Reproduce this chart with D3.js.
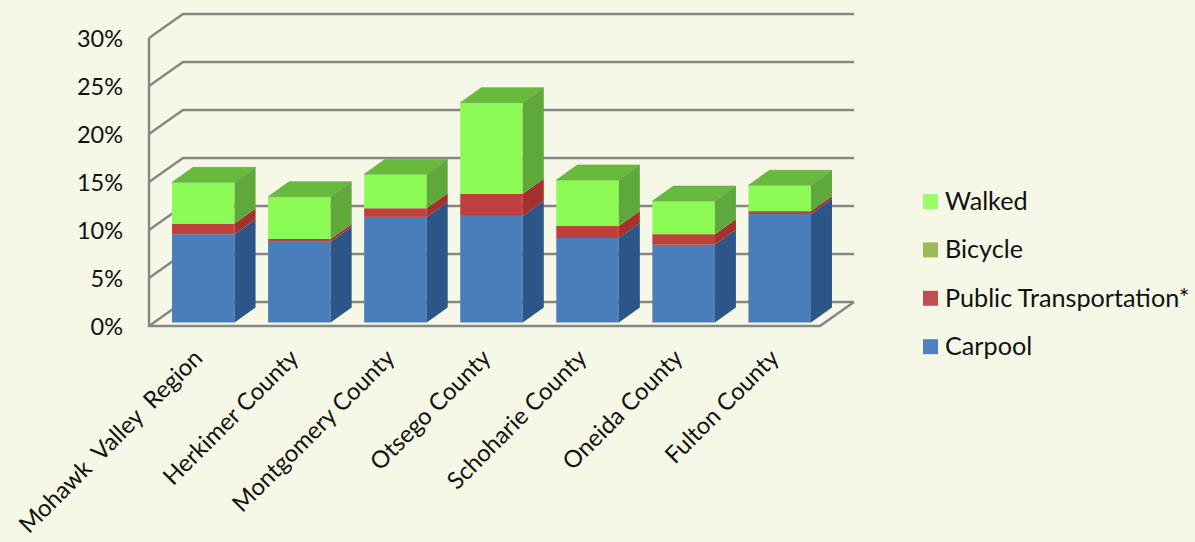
<!DOCTYPE html>
<html><head><meta charset="utf-8">
<script src="https://cdn.jsdelivr.net/npm/d3@7"></script>
<style>html,body{margin:0;padding:0;background:#f5f8e6}svg{display:block}text{font-family:Lato,"Open Sans",sans-serif;fill:#111}</style>
</head><body><svg id="c" width="1195" height="542"></svg>
<script>
const categories=["Mohawk  Valley  Region","Herkimer County","Montgomery County","Otsego County","Schoharie County","Oneida County","Fulton County"];
const carpool=[9.2,8.4,11.0,11.1,8.8,8.1,11.3];
const publicTransport=[1.1,0.3,0.9,2.3,1.25,1.1,0.3];
const bicycle=[0,0,0,0,0,0,0];
const walked=[4.3,4.4,3.55,9.5,4.8,3.45,2.7];
const seriesNames=["Carpool","Public Transportation*","Bicycle","Walked"];
const yTicks=[0,5,10,15,20,25,30];
const frontC=["#4a7ebb","#c0413f","#9bbb59","#8cfb55"];
const sideC=["#2f5587","#a3302e","#76903f","#5fa83b"];
const legendC=["#4f81bd","#c0504d","#9bbb59","#99ff66"];
const topC="#66bb3a";

const svg=d3.select("#c");
const defs=svg.append("defs");
defs.append("filter").attr("id","soft").append("feGaussianBlur").attr("stdDeviation",0.5);
const y=d3.scaleLinear().domain([0,30]).range([326,38]);
const yBar=d3.scaleLinear().domain([0,30]).range([322.5,34.5]);
const x=d3.scaleBand().domain(categories).range([155.5,827.5]).paddingInner(0.349).paddingOuter(0.172);
const wd=34,hd=-24,bd=21,bh=-15,rightX=820;
const grid="#868686";
const gl=svg.append("g").attr("fill","none").attr("stroke",grid).attr("stroke-width",2.4);
yTicks.forEach(t=>{
  const v=y(t);
  gl.append("path").attr("d",`M149,${v}L${149+wd},${v+hd}L${rightX+wd},${v+hd}`);
});
gl.append("path").attr("d",`M149,${y(30)}L149,${y(0)}L${rightX},${y(0)}L${rightX+wd},${y(0)+hd}`);

const stacks=categories.map((c,i)=>{
  let b=0;
  return [carpool[i],publicTransport[i],bicycle[i],walked[i]].map((v,s)=>{const r={c,s,y0:b,y1:b+v};b+=v;return r;});
});
const bars=svg.selectAll("g.bar").data(stacks).join("g").attr("class","bar").attr("filter","url(#soft)");
bars.each(function(st){
  const g=d3.select(this),x0=x(st[0].c),w=x.bandwidth();
  st.filter(d=>d.y1>d.y0).forEach(d=>{
    g.append("rect").attr("x",x0).attr("width",w).attr("y",yBar(d.y1)).attr("height",yBar(d.y0)-yBar(d.y1)).attr("fill",frontC[d.s]);
    g.append("path").attr("fill",sideC[d.s]).attr("d",
      `M${x0+w},${yBar(d.y0)}L${x0+w+bd},${yBar(d.y0)+bh}L${x0+w+bd},${yBar(d.y1)+bh}L${x0+w},${yBar(d.y1)}Z`);
  });
  const t=yBar(st[3].y1);
  g.append("path").attr("fill",topC).attr("stroke","#7f9a6a").attr("stroke-width",.6)
    .attr("d",`M${x0},${t}L${x0+bd},${t+bh}L${x0+w+bd},${t+bh}L${x0+w},${t}Z`);
});

svg.selectAll("text.yt").data(yTicks).join("text").attr("class","yt")
  .attr("x",123).attr("y",d=>y(d)+9).attr("text-anchor","end").attr("font-size",23.5).text(d=>d+"%");

svg.selectAll("text.xt").data(categories).join("text").attr("class","xt")
  .attr("text-anchor","end").attr("font-size",23.8).style("white-space","pre")
  .attr("transform",d=>`translate(${x(d)+x.bandwidth()/2-12},${347}) rotate(-45)`).attr("dy","0.75em").text(d=>d);

const order=[3,2,1,0];
const lg=svg.selectAll("g.lg").data(order).join("g").attr("class","lg")
  .attr("transform",(d,i)=>`translate(923,${194+i*48.4})`);
lg.append("rect").attr("width",15).attr("height",15).attr("fill",d=>legendC[d]);
lg.append("text").attr("x",22).attr("y",16).attr("font-size",25.2).text(d=>seriesNames[d]);
</script></body></html>
